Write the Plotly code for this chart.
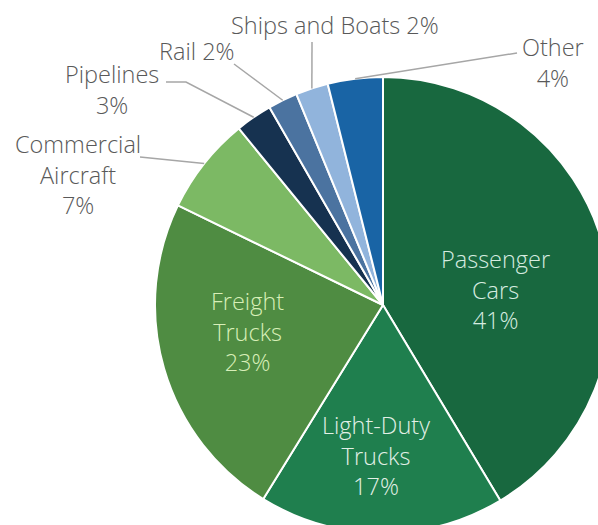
import math
import plotly.graph_objects as go

# ---------------- data ----------------
categories = ["Passenger Cars", "Light-Duty Trucks", "Freight Trucks",
              "Commercial Aircraft", "Pipelines", "Rail", "Ships and Boats", "Other"]
shares = [41.4, 17.4, 23.4, 6.9, 2.6, 2.1, 2.3, 3.9]
label_templates = ["Passenger<br>Cars<br>{p}%", "Light-Duty<br>Trucks<br>{p}%",
                   "Freight<br>Trucks<br>{p}%", "Commercial<br>Aircraft<br>{p}%",
                   "Pipelines<br>{p}%", "Rail {p}%", "Ships and Boats {p}%", "Other<br>{p}%"]

# ---------------- styles / layout ----------------
slice_colors = ["#18683f", "#1f7f4e", "#4f8c42", "#7cb964",
                "#163250", "#4b73a0", "#91b4dc", "#1964a5"]
text_colors = ["#d6ece0", "#e2f0e6", "#d8efb8", "#595959",
               "#595959", "#595959", "#595959", "#595959"]
label_centers = [(495, 289), (376, 455), (247, 331), (78, 174),
                 (112, 90), (197, 51), (335, 25), (553, 62)]
leader_points = [None, None, None, [(140, 157)], [(166, 82), (186, 82)],
                 [(234, 64)], [(312, 42)], [(517, 53)]]

W, H = 620, 560
CX, CY, R = 383, 305, 228
FONT = "Open Sans"
FSIZE = 23.5


def px(x):
    return x / W


def py(y):
    return 1 - y / H


fig = go.Figure(go.Pie(
    labels=categories, values=shares, sort=False, direction="clockwise",
    rotation=0, textinfo="none", hoverinfo="label+percent",
    marker=dict(colors=slice_colors, line=dict(color="white", width=2)),
    domain=dict(x=[px(CX - R), px(CX + R)], y=[py(CY + R), py(CY - R)]),
    showlegend=False,
))

annotations = []
shapes = []
total = sum(shares)
cum = 0.0
for i, (name, v) in enumerate(zip(categories, shares)):
    mid = (cum + v / 2) / total * 2 * math.pi
    cum += v
    lx, ly = label_centers[i]
    annotations.append(dict(
        x=px(lx), y=py(ly), xref="paper", yref="paper",
        text=label_templates[i].format(p=round(v)),
        showarrow=False, xanchor="center", yanchor="middle", align="center",
        font=dict(family=FONT, size=FSIZE, color=text_colors[i], weight=300)))
    if leader_points[i]:
        ex = CX + R * math.sin(mid)
        ey = CY - R * math.cos(mid)
        pts = leader_points[i] + [(ex, ey)]
        path = "M " + " L ".join(f"{px(a)},{py(b)}" for a, b in pts)
        shapes.append(dict(type="path", xref="paper", yref="paper", path=path,
                           line=dict(color="#a6a6a6", width=1.5)))

fig.update_layout(
    width=W, height=H, margin=dict(l=0, r=0, t=0, b=0),
    paper_bgcolor="white", plot_bgcolor="white",
    annotations=annotations, shapes=shapes,
)

fig.write_html("out.html", config={"displayModeBar": False},
               post_script="document.body.style.margin='0';document.body.style.overflow='hidden';")
